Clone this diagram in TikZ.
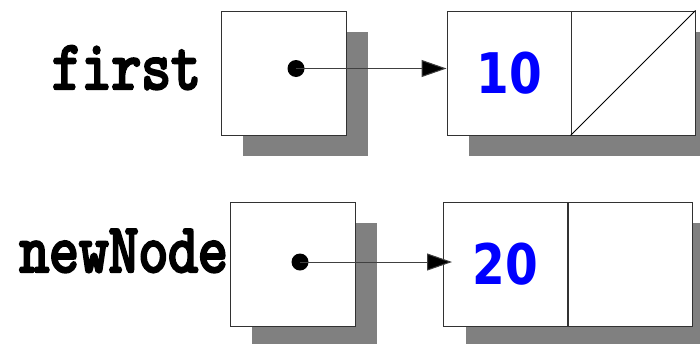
\documentclass[tikz,border=0pt]{standalone}
\usepackage{fontspec}
\usetikzlibrary{arrows.meta,shadows}
\newfontfamily\numfont[FakeStretch=0.84]{DejaVu Sans}
\newfontfamily\codefont[FakeBold=3.5,FakeStretch=0.81]{lmmono10-regular.otf}
\definecolor{shadowgray}{RGB}{128,128,128}
\definecolor{numblue}{RGB}{0,0,255}
\definecolor{edgegray}{RGB}{50,50,50}
\tikzset{
  cell/.style={draw=edgegray,line width=1pt,fill=white,minimum width=124pt,minimum height=124pt,inner sep=0pt,
    drop shadow={shadow xshift=22pt,shadow yshift=-21pt,fill=shadowgray,opacity=1}},
  dotnode/.style={circle,fill=black,inner sep=0pt,minimum size=17pt},
  ptr/.style={draw=black!75,line width=1pt,-{Triangle[length=25pt,width=17pt,fill=black]}},
  lbl/.style={inner sep=0pt,font=\fontsize{70}{76}\selectfont\codefont},
  num/.style={inner sep=0pt,text=numblue,font=\fontsize{56}{60}\selectfont\numfont\bfseries}
}
\begin{document}
\begin{tikzpicture}[x=1pt,y=-1pt]
\useasboundingbox (0,0) rectangle (700,343);
\clip (0,0) rectangle (700,343);
% top row
\node[cell,minimum width=125pt] (p1) at (283.5,73) {};
\node[cell] (a1) at (509,73) {};
\node[cell] (b1) at (633,73) {};
\draw[line width=0.8pt] (b1.south west) -- (b1.north east);
\node[num] (v1) at (a1.center) {10};
\node[dotnode] (d1) at (296,68.5) {};
\draw[ptr] (d1.center) -- (d1 -| a1.west);
\node[lbl,anchor=base east] (l1) at (201,89) {first};
% bottom row
\node[cell,minimum width=125pt] (p2) at (292.5,264) {};
\node[cell] (a2) at (505.5,264) {};
\node[cell] (b2) at (630,264) {};
\node[num] (v2) at (a2.center) {20};
\node[dotnode] (d2) at (300,262) {};
\draw[ptr] (d2.center) -- ([xshift=9pt]d2 -| a2.west);
\node[lbl,anchor=base east] (l2) at (228,272) {newNode};
\end{tikzpicture}
\end{document}
